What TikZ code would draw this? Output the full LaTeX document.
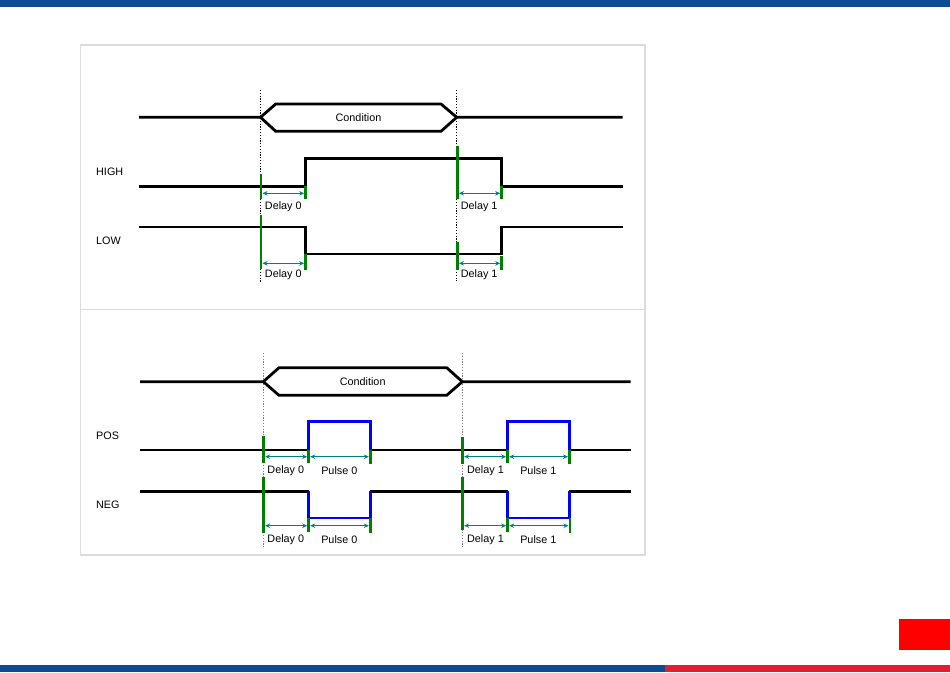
\documentclass[tikz,border=0pt]{standalone}
\usepackage{fontspec}
\setmainfont{Liberation Sans}
\usetikzlibrary{arrows.meta}
\definecolor{barblue}{HTML}{0C4C94}
\definecolor{barred}{HTML}{E31E33}
\definecolor{boxred}{HTML}{FF0000}
\definecolor{framegray}{HTML}{DCDCDC}
\definecolor{mgreen}{HTML}{008000}
\definecolor{mteal}{HTML}{008080}
\definecolor{pblue}{HTML}{0000FF}
\tikzset{
  sig/.style={line width=2.8pt, black, line join=miter},
  pulse/.style={line width=2.6pt, pblue, line join=miter},
  marker/.style={line width=2.8pt, mgreen},
  span/.style={line width=1.2pt, mteal, {Stealth[length=5pt,width=4.5pt]}-{Stealth[length=5pt,width=4.5pt]}},
  guide/.style={line width=0.9pt, black, dash pattern=on 1.2pt off 1.6pt},
  guidegray/.style={line width=0.9pt, gray, dash pattern=on 1.2pt off 1.6pt},
  lbl/.style={font=\fontsize{10.8}{12}\selectfont, inner sep=0pt, anchor=west},
  tag/.style={font=\fontsize{10.8}{12}\selectfont, inner sep=0pt},
}
\begin{document}
\begin{tikzpicture}[x=1pt,y=-1pt]
\useasboundingbox (0,0) rectangle (950,672);
\fill[white] (0,0) rectangle (950,672);
% bars
\fill[barblue] (0,0) rectangle (950,7);
\fill[barblue] (0,665) rectangle (665,672);
\fill[barred] (665,665) rectangle (950,672);
\fill[boxred] (899,619) rectangle (950,650);
% frame
\draw[framegray, line width=1.2pt] (80.5,45) rectangle (645,555);
\draw[framegray, line width=1.2pt] (80.5,309.7) -- (645,309.7);

% ===== top section =====
\draw[guide] (260.5,90) -- (260.5,283);
\draw[guide] (456.7,90) -- (456.7,281);
% condition bus
\draw[sig] (139,117.3) -- (260.5,117.3) -- (275.7,104) -- (441,104) -- (456.7,117.3) -- (622.7,117.3);
\draw[sig] (260.5,117.3) -- (275.7,131.3) -- (441,131.3) -- (456.7,117.3);
\node[tag] (cond1) at (358.5,117.3) {Condition};
% HIGH
\node[lbl] (high) at (96,171.7) {HIGH};
\draw[sig] (139,186.3) -- (305.7,186.3) -- (305.7,158.7) -- (501.7,158.7) -- (501.7,186.3) -- (622.7,186.3);
% LOW
\node[lbl] (low) at (96,241) {LOW};
\draw[sig] (139,227) -- (305.7,227) -- (305.7,254) -- (501.7,254) -- (501.7,227) -- (622.7,227);
% markers
\draw[marker] (261,174) -- (261,199.3);
\draw[marker] (305.7,186) -- (305.7,199.3);
\draw[marker] (457.5,145.7) -- (457.5,199.3);
\draw[marker] (501.7,186) -- (501.7,199.3);
\draw[marker] (261,215) -- (261,269);
\draw[marker] (305.7,254) -- (305.7,270);
\draw[marker] (457.5,242.3) -- (457.5,270);
\draw[marker] (501.7,256) -- (501.7,270);
% spans
\coordinate (h0a) at (262.5,193.3); \coordinate (h0b) at (304.2,193.3);
\coordinate (h1a) at (459,193.3); \coordinate (h1b) at (500.2,193.3);
\coordinate (l0a) at (262.5,263.3); \coordinate (l0b) at (304.2,263.3);
\coordinate (l1a) at (459,263.3); \coordinate (l1b) at (500.2,263.3);
\draw[span] (h0a) -- (h0b);
\draw[span] (h1a) -- (h1b);
\draw[span] (l0a) -- (l0b);
\draw[span] (l1a) -- (l1b);
\node[tag] (dh0) at (283.3,207) {Delay 0};
\node[tag] (dh1) at (479.2,207) {Delay 1};
\node[tag] (dl0) at (283.3,275) {Delay 0};
\node[tag] (dl1) at (479.2,275) {Delay 1};

% ===== bottom section =====
\draw[guidegray] (263.3,353) -- (263.3,547);
\draw[guidegray] (462.3,353) -- (462.3,547);
\draw[sig] (140,381.7) -- (263.3,381.7) -- (279,367.7) -- (446.7,367.7) -- (462.3,381.7) -- (630.7,381.7);
\draw[sig] (263.3,381.7) -- (279,395.3) -- (446.7,395.3) -- (462.3,381.7);
\node[tag] (cond2) at (362.7,381.7) {Condition};
% POS
\node[lbl] (pos) at (96,436) {POS};
\draw[sig] (140,450) -- (308.7,450);
\draw[sig] (370.3,450) -- (507.7,450);
\draw[sig] (569.3,450) -- (630.7,450);
\draw[pulse] (308.7,450) -- (308.7,421.7) -- (370.3,421.7) -- (370.3,450);
\draw[pulse] (507.7,450) -- (507.7,421.7) -- (569.3,421.7) -- (569.3,450);
% NEG
\node[lbl] (neg) at (96,504.7) {NEG};
\draw[sig] (140,491.3) -- (308.7,491.3);
\draw[sig] (370.3,491.3) -- (507.7,491.3);
\draw[sig] (569.3,491.3) -- (630.7,491.3);
\draw[pulse] (308.7,491.3) -- (308.7,518) -- (370.3,518) -- (370.3,491.3);
\draw[pulse] (507.7,491.3) -- (507.7,518) -- (569.3,518) -- (569.3,491.3);
% markers
\draw[marker] (263.6,436) -- (263.6,463.3);
\draw[marker] (308.7,450) -- (308.7,463);
\draw[marker] (370.3,450) -- (370.3,464);
\draw[marker] (462.6,437.3) -- (462.6,464);
\draw[marker] (507.7,450) -- (507.7,463);
\draw[marker] (569.6,450) -- (569.6,464);
\draw[marker] (263.6,476.7) -- (263.6,532.7);
\draw[marker] (308.7,518) -- (308.7,532);
\draw[marker] (370.3,518) -- (370.3,532.7);
\draw[marker] (462.6,476.7) -- (462.6,530);
\draw[marker] (507.7,518) -- (507.7,532);
\draw[marker] (570,518) -- (570,532.7);
% spans
\coordinate (pd0a) at (265.1,456.7); \coordinate (pd0b) at (307.2,456.7);
\coordinate (pp0a) at (310.2,456.7); \coordinate (pp0b) at (368.8,456.7);
\coordinate (pd1a) at (464.1,456.7); \coordinate (pd1b) at (506.2,456.7);
\coordinate (pp1a) at (509.2,456.7); \coordinate (pp1b) at (568,456.7);
\coordinate (nd0a) at (265.1,525.7); \coordinate (nd0b) at (307.2,525.7);
\coordinate (np0a) at (310.2,525.7); \coordinate (np0b) at (368.8,525.7);
\coordinate (nd1a) at (464.1,525.7); \coordinate (nd1b) at (506.2,525.7);
\coordinate (np1a) at (509.2,525.7); \coordinate (np1b) at (568.4,525.7);
\draw[span] (pd0a) -- (pd0b);
\draw[span] (pp0a) -- (pp0b);
\draw[span] (pd1a) -- (pd1b);
\draw[span] (pp1a) -- (pp1b);
\draw[span] (nd0a) -- (nd0b);
\draw[span] (np0a) -- (np0b);
\draw[span] (nd1a) -- (nd1b);
\draw[span] (np1a) -- (np1b);
\node[tag] (tpd0) at (285.8,470.7) {Delay 0};
\node[tag] (tpp0) at (339.3,470.7) {Pulse 0};
\node[tag] (tpd1) at (485.5,470.7) {Delay 1};
\node[tag] (tpp1) at (538.3,470.7) {Pulse 1};
\node[tag] (tnd0) at (285.8,539.3) {Delay 0};
\node[tag] (tnp0) at (339.3,539.3) {Pulse 0};
\node[tag] (tnd1) at (485.5,539.3) {Delay 1};
\node[tag] (tnp1) at (538.3,539.3) {Pulse 1};
\end{tikzpicture}
\end{document}
